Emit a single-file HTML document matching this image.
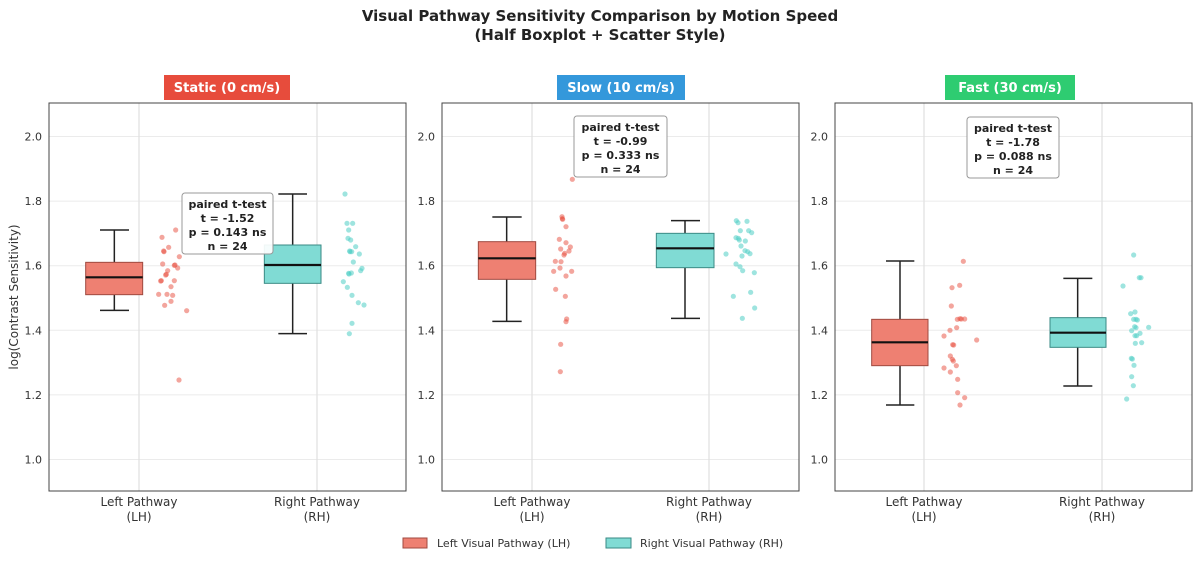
<!DOCTYPE html>
<html><head><meta charset="utf-8"><style>
html,body{margin:0;padding:0;background:#fff;}
svg{display:block;font-family:"DejaVu Sans","Liberation Sans",sans-serif;}
</style></head><body>
<svg id="s" width="1200" height="562" viewBox="0 0 1200 562" xmlns="http://www.w3.org/2000/svg">
<rect width="1200" height="562" fill="#fff"/>
<text x="600" y="21" text-anchor="middle" font-size="15" font-weight="bold" fill="#222">Visual Pathway Sensitivity Comparison by Motion Speed</text>
<text x="600" y="40" text-anchor="middle" font-size="15" font-weight="bold" fill="#222">(Half Boxplot + Scatter Style)</text>
<text transform="translate(18,297) rotate(-90)" text-anchor="middle" font-size="12" fill="#333">log(Contrast Sensitivity)</text>
<rect x="403" y="538" width="24" height="10" fill="#ee8072" stroke="#a04a40" stroke-width="1"/>
<text x="437" y="547" font-size="11" fill="#333">Left Visual Pathway (LH)</text>
<rect x="606" y="538" width="25" height="10" fill="#80dbd4" stroke="#3a8a85" stroke-width="1"/>
<text x="640" y="547" font-size="11" fill="#333">Right Visual Pathway (RH)</text>
<g id="g"></g>
</svg>
<script>
var NS="http://www.w3.org/2000/svg",g=document.getElementById('g');
function el(t,a,txt){var e=document.createElementNS(NS,t);for(var k in a)e.setAttribute(k,a[k]);if(txt!=null)e.textContent=txt;g.appendChild(e);return e;}
var panels=[
{l:49,r:406,c:[139,317],ox:40,oy:70,title:"Static (0 cm/s)",tc:"#e74c3c",tx:[164,290],
 st:[182,193,273,254,"-1.52","0.143"],
 bl:{x:[137,308],cap:[180,267],cx:223,v:[480,577,622,674,721]},
 br:{x:[673,843],cap:[715,801],cx:758,v:[372,525,585,640,791]},
 pl:[[366,502],[407,480],[386,532],[372,545],[418,560],[368,582],[403,586],[413,594],[383,602],[377,615],[364,632],[403,632],[393,650],[356,673],[381,673],[398,676],[393,694],[374,706],[440,722],[417,930],[371,543],[379,613],[405,585],[362,633]],
 pr:[[915,372],[921,460],[938,460],[926,480],[924,505],[932,510],[947,530],[930,545],[935,545],[958,552],[940,576],[966,595],[962,602],[926,610],[934,609],[910,635],[922,652],[936,676],[955,698],[972,705],[936,760],[928,791],[929,543],[927,612]]},
{l:442,r:799,c:[532,709],ox:410,oy:100,title:"Slow (10 cm/s)",tc:"#3498db",tx:[557,685],
 st:[574,116,667,177,"-0.99","0.333"],
 bl:{x:[205,377],cap:[247,335],cx:290,v:[351,425,475,538,664]},
 br:{x:[739,912],cap:[783,870],cx:825,v:[362,400,445,503,655]},
 pl:[[487,238],[456,350],[458,358],[468,380],[448,418],[468,428],[481,441],[452,447],[477,453],[462,465],[436,484],[431,514],[450,504],[485,514],[468,528],[437,568],[466,589],[470,657],[468,665],[452,733],[451,815],[453,485],[464,460],[457,356]],
 pr:[[979,362],[984,368],[1011,364],[991,392],[1016,392],[1025,398],[978,413],[988,420],[1006,423],[993,438],[1013,455],[948,462],[996,468],[1020,461],[978,492],[990,500],[998,512],[1033,518],[1022,577],[970,589],[1034,624],[997,655],[985,415],[1005,452]]},
{l:835,r:1192,c:[924,1102],ox:800,oy:100,title:"Fast (30 cm/s)",tc:"#2ecc71",tx:[945,1075],
 st:[967,117,1059,178,"-1.78","0.088"],
 bl:{x:[215,384],cap:[258,343],cx:300,v:[483,658,727,797,915]},
 br:{x:[750,918],cap:[790,877],cx:833,v:[535,653,698,742,858]},
 pl:[[490,484],[456,563],[479,556],[454,618],[480,656],[494,657],[472,658],[450,691],[470,683],[432,708],[530,720],[458,734],[461,735],[451,768],[457,778],[460,783],[469,797],[432,804],[451,816],[473,838],[473,878],[494,893],[480,915],[484,657]],
 pr:[[1001,465],[969,558],[1018,533],[1023,533],[992,641],[1005,636],[1001,658],[1008,658],[995,692],[1004,680],[1020,700],[1046,682],[1005,707],[1006,730],[1025,728],[994,775],[997,777],[1002,796],[995,830],[1000,857],[980,897],[1008,683],[1010,707],[1012,660]]}
];
var T=103,B=491;
function Y(v){return 136.5+(2.0-v)*323;}
panels.forEach(function(p){
  var X=function(z){return p.ox+z/3},YY=function(z){return p.oy+z/3};
  for(var v=1.0;v<=2.01;v+=0.2){var y=Y(v);el('line',{x1:p.l,x2:p.r,y1:y,y2:y,stroke:'#ebebeb','stroke-width':1});
    el('text',{x:p.l-7,y:y+4,'text-anchor':'end','font-size':11,fill:'#333'},v.toFixed(1));}
  p.c.forEach(function(cx){el('line',{x1:cx,x2:cx,y1:T,y2:B,stroke:'#e0e0e0','stroke-width':1.2});});
  [[p.bl,'#ee8072','#a04a40'],[p.br,'#80dbd4','#3a8a85']].forEach(function(b){
    var o=b[0],v=o.v.map(YY),x0=X(o.x[0]),x1=X(o.x[1]),cx=X(o.cx);
    el('line',{x1:cx,x2:cx,y1:v[0],y2:v[1],stroke:'#222','stroke-width':1.5});
    el('line',{x1:cx,x2:cx,y1:v[3],y2:v[4],stroke:'#222','stroke-width':1.5});
    el('line',{x1:X(o.cap[0]),x2:X(o.cap[1]),y1:v[0],y2:v[0],stroke:'#222','stroke-width':1.5});
    el('line',{x1:X(o.cap[0]),x2:X(o.cap[1]),y1:v[4],y2:v[4],stroke:'#222','stroke-width':1.5});
    el('rect',{x:x0,y:v[1],width:x1-x0,height:v[3]-v[1],fill:b[1],stroke:b[2],'stroke-width':1});
    el('line',{x1:x0,x2:x1,y1:v[2],y2:v[2],stroke:'#111','stroke-width':2.2});
  });
  p.pl.forEach(function(q){el('circle',{cx:X(q[0]),cy:YY(q[1]),r:2.6,fill:'#e74c3c','fill-opacity':0.5});});
  p.pr.forEach(function(q){el('circle',{cx:X(q[0]),cy:YY(q[1]),r:2.6,fill:'#4ecdc4','fill-opacity':0.55});});
  el('rect',{x:p.l,y:T,width:p.r-p.l,height:B-T,fill:'none',stroke:'#444','stroke-width':1});
  el('rect',{x:p.tx[0],y:75,width:p.tx[1]-p.tx[0],height:25,fill:p.tc});
  el('text',{x:(p.tx[0]+p.tx[1])/2,y:92,'text-anchor':'middle','font-size':13,'font-weight':'bold',fill:'#fff'},p.title);
  var s=p.st,cx=(s[0]+s[2])/2;
  el('rect',{x:s[0],y:s[1],width:s[2]-s[0],height:s[3]-s[1],rx:3,fill:'#fff','fill-opacity':0.92,stroke:'#999','stroke-width':1});
  ["paired t-test","t = "+s[4],"p = "+s[5]+" ns","n = 24"].forEach(function(t,i){
    el('text',{x:cx,y:s[1]+15+i*14,'text-anchor':'middle','font-size':11,'font-weight':'bold',fill:'#222'},t);});
  [["Left Pathway","(LH)"],["Right Pathway","(RH)"]].forEach(function(t,i){
    el('text',{x:p.c[i],y:506,'text-anchor':'middle','font-size':12,fill:'#333'},t[0]);
    el('text',{x:p.c[i],y:521,'text-anchor':'middle','font-size':12,fill:'#333'},t[1]);});
});
</script>
</body></html>
